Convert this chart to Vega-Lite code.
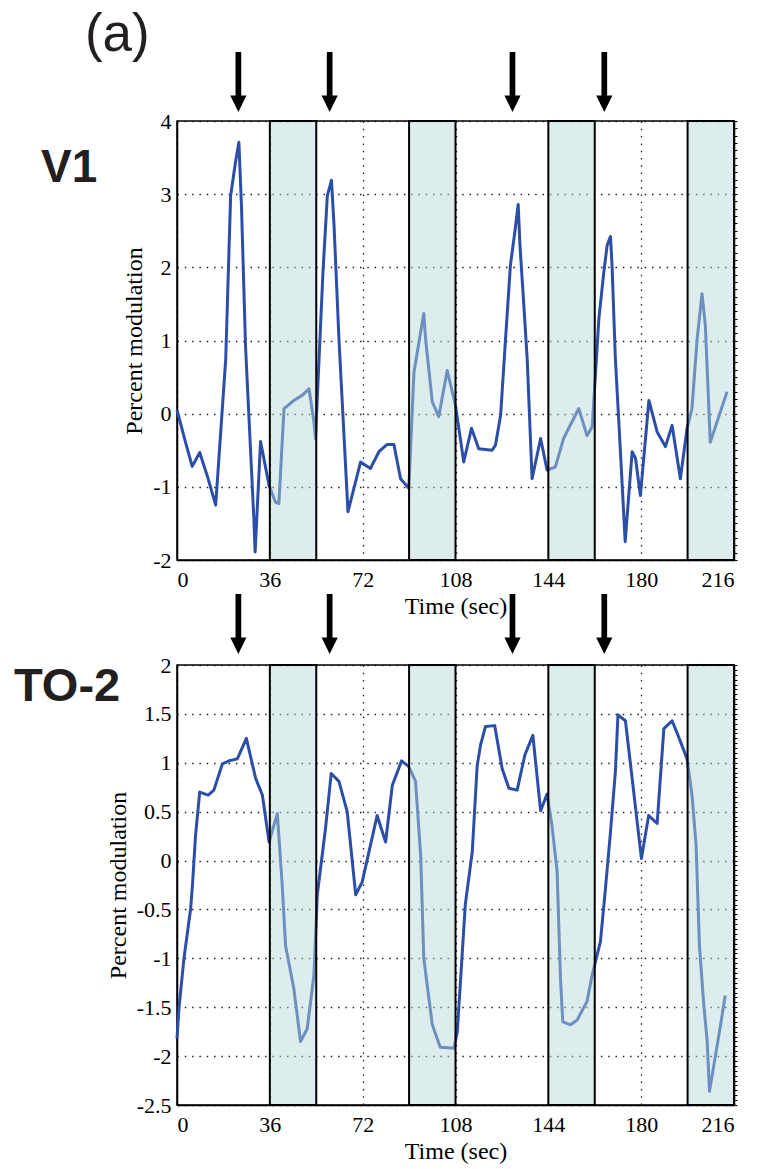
{
  "$schema": "https://vega.github.io/schema/vega-lite/v6.json",
  "padding": {"left": 13, "top": 8, "right": 0, "bottom": 0},
  "background": "white",
  "bounds": "flush",
  "spacing": 105,
  "config": {
    "view": {"stroke": "black", "strokeWidth": 1.5},
    "font": "Liberation Serif",
    "axis": {
      "labelFont": "Liberation Serif",
      "labelFontSize": 22,
      "labelColor": "black",
      "titleFont": "Liberation Serif",
      "titleFontSize": 24,
      "titleFontWeight": "normal",
      "titleColor": "black",
      "domainColor": "black",
      "domainWidth": 1.5,
      "ticks": false,
      "gridColor": "#222222",
      "gridDash": [1.5, 5.8],
      "gridWidth": 1.3,
      "gridOpacity": 1,
      "zindex": 1
    }
  },
  "datasets": {
    "v1": [
      {"t": 0, "v": 0.05}, {"t": 3, "v": -0.35}, {"t": 5.9, "v": -0.72}, {"t": 8.8, "v": -0.53},
      {"t": 12, "v": -0.88}, {"t": 15, "v": -1.25}, {"t": 18.9, "v": 0.75}, {"t": 20.8, "v": 2.98},
      {"t": 22.7, "v": 3.44}, {"t": 24, "v": 3.71}, {"t": 25, "v": 2.84}, {"t": 26, "v": 1.62},
      {"t": 26.6, "v": 0.9}, {"t": 29.8, "v": -1.43}, {"t": 30.3, "v": -1.89}, {"t": 32.4, "v": -0.38},
      {"t": 35.7, "v": -0.98}, {"t": 38.2, "v": -1.21}, {"t": 39.5, "v": -1.23}, {"t": 41.5, "v": 0.07},
      {"t": 45.3, "v": 0.18}, {"t": 48.5, "v": 0.25}, {"t": 51.2, "v": 0.34}, {"t": 53.1, "v": -0.11},
      {"t": 53.7, "v": -0.34}, {"t": 56.6, "v": 1.93}, {"t": 58.3, "v": 2.98}, {"t": 59.9, "v": 3.19},
      {"t": 60.9, "v": 2.57}, {"t": 62.8, "v": 1.02}, {"t": 66.3, "v": -1.34}, {"t": 71.2, "v": -0.66},
      {"t": 75, "v": -0.75}, {"t": 78.3, "v": -0.52}, {"t": 81.5, "v": -0.42}, {"t": 84.1, "v": -0.42},
      {"t": 86.7, "v": -0.89}, {"t": 89.9, "v": -1.02}, {"t": 91.9, "v": 0.57}, {"t": 95.7, "v": 1.37},
      {"t": 96.4, "v": 1.02}, {"t": 99, "v": 0.16}, {"t": 101.5, "v": -0.04}, {"t": 104.8, "v": 0.59},
      {"t": 108, "v": 0.11}, {"t": 111.2, "v": -0.66}, {"t": 114.2, "v": -0.2}, {"t": 117, "v": -0.48},
      {"t": 122.2, "v": -0.5}, {"t": 123.5, "v": -0.43}, {"t": 125.5, "v": -0.02}, {"t": 127.4, "v": 1.02},
      {"t": 129.3, "v": 2.03}, {"t": 131, "v": 2.48}, {"t": 132.3, "v": 2.86}, {"t": 133, "v": 2.3},
      {"t": 134.5, "v": 1.48}, {"t": 135.8, "v": 0.75}, {"t": 137.7, "v": -0.89}, {"t": 141, "v": -0.34},
      {"t": 143.5, "v": -0.77}, {"t": 146.7, "v": -0.73}, {"t": 149.9, "v": -0.34}, {"t": 155.8, "v": 0.07},
      {"t": 159, "v": -0.3}, {"t": 161, "v": -0.18}, {"t": 163.6, "v": 1.3}, {"t": 165.5, "v": 1.93},
      {"t": 166.8, "v": 2.3}, {"t": 168.1, "v": 2.42}, {"t": 168.7, "v": 2.03}, {"t": 170, "v": 0.75},
      {"t": 171.9, "v": -0.48}, {"t": 173.8, "v": -1.75}, {"t": 176.5, "v": -0.52}, {"t": 177.8, "v": -0.61},
      {"t": 179.7, "v": -1.12}, {"t": 183, "v": 0.18}, {"t": 186.2, "v": -0.25}, {"t": 189.4, "v": -0.45},
      {"t": 192, "v": -0.16}, {"t": 195.2, "v": -0.89}, {"t": 197.8, "v": -0.2}, {"t": 199.7, "v": 0.07},
      {"t": 201.7, "v": 1.02}, {"t": 203.6, "v": 1.64}, {"t": 204.9, "v": 1.2}, {"t": 206.8, "v": -0.39},
      {"t": 213.3, "v": 0.3}
    ],
    "to2": [
      {"t": 0, "v": -1.82}, {"t": 0.8, "v": -1.5}, {"t": 2.7, "v": -1.0}, {"t": 5.3, "v": -0.49},
      {"t": 6, "v": -0.25}, {"t": 7.2, "v": 0.26}, {"t": 8.8, "v": 0.7}, {"t": 12.1, "v": 0.67},
      {"t": 14.3, "v": 0.72}, {"t": 17.6, "v": 0.99}, {"t": 20.2, "v": 1.02}, {"t": 23.4, "v": 1.04},
      {"t": 26.9, "v": 1.25}, {"t": 30.5, "v": 0.84}, {"t": 33.1, "v": 0.67}, {"t": 35.7, "v": 0.19},
      {"t": 38.9, "v": 0.48}, {"t": 40.8, "v": -0.25}, {"t": 42.1, "v": -0.87}, {"t": 45.3, "v": -1.31},
      {"t": 47.9, "v": -1.85}, {"t": 50.5, "v": -1.72}, {"t": 53.1, "v": -1.17}, {"t": 54.4, "v": -0.35},
      {"t": 57.6, "v": 0.33}, {"t": 59.8, "v": 0.89}, {"t": 62.8, "v": 0.81}, {"t": 66, "v": 0.5},
      {"t": 69.3, "v": -0.35}, {"t": 71.8, "v": -0.22}, {"t": 77.6, "v": 0.46}, {"t": 80.9, "v": 0.19},
      {"t": 83.5, "v": 0.77}, {"t": 87.1, "v": 1.02}, {"t": 89.9, "v": 0.96}, {"t": 92.5, "v": 0.81},
      {"t": 94.5, "v": 0.05}, {"t": 95.7, "v": -1.0}, {"t": 99, "v": -1.68}, {"t": 102.1, "v": -1.91},
      {"t": 107.4, "v": -1.92}, {"t": 108.7, "v": -1.75}, {"t": 111.8, "v": -0.45}, {"t": 114.5, "v": 0.09},
      {"t": 116.4, "v": 0.97}, {"t": 117.7, "v": 1.18}, {"t": 119.6, "v": 1.37}, {"t": 123.2, "v": 1.38},
      {"t": 126.1, "v": 0.94}, {"t": 128.7, "v": 0.74}, {"t": 131.9, "v": 0.72}, {"t": 134.9, "v": 1.08},
      {"t": 138, "v": 1.28}, {"t": 141, "v": 0.51}, {"t": 143.5, "v": 0.68}, {"t": 145.4, "v": 0.36},
      {"t": 147.4, "v": -0.11}, {"t": 148.7, "v": -1.2}, {"t": 149.6, "v": -1.65}, {"t": 152.6, "v": -1.68},
      {"t": 155.2, "v": -1.63}, {"t": 159, "v": -1.44}, {"t": 161, "v": -1.17}, {"t": 164.2, "v": -0.83},
      {"t": 166.1, "v": -0.3}, {"t": 168, "v": 0.26}, {"t": 170, "v": 0.91}, {"t": 171, "v": 1.49},
      {"t": 173.9, "v": 1.43}, {"t": 176.5, "v": 0.84}, {"t": 180.1, "v": 0.02}, {"t": 182.9, "v": 0.46},
      {"t": 186.2, "v": 0.38}, {"t": 188.8, "v": 1.35}, {"t": 192, "v": 1.43}, {"t": 194.6, "v": 1.26},
      {"t": 197.8, "v": 1.04}, {"t": 199.7, "v": 0.67}, {"t": 201.3, "v": 0.16}, {"t": 202.6, "v": -0.87},
      {"t": 204.3, "v": -1.48}, {"t": 205.6, "v": -1.85}, {"t": 206.5, "v": -2.36}, {"t": 208.2, "v": -2.09},
      {"t": 210.8, "v": -1.68}, {"t": 212.6, "v": -1.38}
    ],
    "blocks": [
      {"start": 36, "end": 54}, {"start": 90, "end": 108}, {"start": 144, "end": 162}, {"start": 198, "end": 216}
    ],
    "stim": [
      {"t": 23.8}, {"t": 59.2}, {"t": 130.1}, {"t": 165.7}
    ]
  },
  "vconcat": [
    {
      "width": 557,
      "height": 439,
      "resolve": {"axis": {"y": "independent"}},
      "layer": [
        {
          "data": {"name": "v1"},
          "mark": {"type": "line", "color": "#2b4fa8", "strokeWidth": 3, "strokeJoin": "round"},
          "encoding": {
            "x": {"field": "t", "type": "quantitative", "scale": {"domain": [0, 216], "nice": false},
                  "axis": {"values": [0, 36, 72, 108, 144, 180, 216], "title": "Time (sec)", "labelPadding": 9, "titlePadding": 4}},
            "y": {"field": "v", "type": "quantitative", "scale": {"domain": [-2, 4], "nice": false, "zero": false},
                  "axis": {"values": [-2, -1, 0, 1, 2, 3, 4], "title": "Percent modulation", "labelPadding": 6, "titlePadding": 6, "labelExpr": "'' + datum.value"}}
          }
        },
        {
          "data": {"name": "blocks"},
          "mark": {"type": "rect", "fill": "#b7d8d8", "fillOpacity": 0.48, "stroke": "black", "strokeWidth": 2},
          "encoding": {
            "x": {"field": "start", "type": "quantitative", "scale": {"domain": [0, 216], "nice": false},
                  "axis": {"values": [0, 36, 72, 108, 144, 180, 216], "title": "Time (sec)", "labelPadding": 9, "titlePadding": 4}},
            "x2": {"field": "end"}
          }
        },
        {
          "data": {"name": "stim"},
          "mark": {"type": "point", "shape": "M -0.095 -1 L 0.095 -1 L 0.095 0.45 L 0.27 0.45 L 0 1 L -0.27 0.45 L -0.095 0.45 Z", "size": 3600, "filled": true, "color": "black", "opacity": 1, "strokeWidth": 0},
          "encoding": {
            "x": {"field": "t", "type": "quantitative", "scale": {"domain": [0, 216], "nice": false},
                  "axis": {"values": [0, 36, 72, 108, 144, 180, 216], "title": "Time (sec)", "labelPadding": 9, "titlePadding": 4}},
            "y": {"datum": 4.533, "type": "quantitative", "scale": {"domain": [-2, 4], "nice": false, "zero": false},
                  "axis": {"orient": "right", "labels": false, "grid": false, "title": null, "ticks": true, "tickCount": 60, "tickSize": 3, "tickColor": "black", "tickWidth": 1}}
          }
        },
        {
          "data": {"values": [{}]},
          "mark": {"type": "text", "text": "V1", "font": "Liberation Sans", "fontSize": 46, "fontWeight": "bold", "align": "left", "baseline": "alphabetic", "color": "#231f20"},
          "encoding": {
            "x": {"datum": -52.74, "type": "quantitative", "scale": {"domain": [0, 216], "nice": false},
                  "axis": {"values": [0, 36, 72, 108, 144, 180, 216], "title": "Time (sec)", "labelPadding": 9, "titlePadding": 4}},
            "y": {"datum": 3.169, "type": "quantitative", "scale": {"domain": [-2, 4], "nice": false, "zero": false}, "axis": null}
          }
        },
        {
          "data": {"values": [{}]},
          "mark": {"type": "text", "text": "(a)", "font": "Liberation Sans", "fontSize": 53, "fontWeight": "normal", "align": "left", "baseline": "alphabetic", "color": "#231f20"},
          "encoding": {
            "x": {"datum": -35.7, "type": "quantitative", "scale": {"domain": [0, 216], "nice": false},
                  "axis": {"values": [0, 36, 72, 108, 144, 180, 216], "title": "Time (sec)", "labelPadding": 9, "titlePadding": 4}},
            "y": {"datum": 4.957, "type": "quantitative", "scale": {"domain": [-2, 4], "nice": false, "zero": false}, "axis": null}
          }
        }
      ]
    },
    {
      "width": 557,
      "height": 440,
      "resolve": {"axis": {"y": "independent"}},
      "layer": [
        {
          "data": {"name": "to2"},
          "mark": {"type": "line", "color": "#2b4fa8", "strokeWidth": 3, "strokeJoin": "round"},
          "encoding": {
            "x": {"field": "t", "type": "quantitative", "scale": {"domain": [0, 216], "nice": false},
                  "axis": {"values": [0, 36, 72, 108, 144, 180, 216], "title": "Time (sec)", "labelPadding": 9, "titlePadding": 4}},
            "y": {"field": "v", "type": "quantitative", "scale": {"domain": [-2.5, 2], "nice": false, "zero": false},
                  "axis": {"values": [-2.5, -2, -1.5, -1, -0.5, 0, 0.5, 1, 1.5, 2], "title": "Percent modulation", "labelPadding": 6, "titlePadding": 6, "labelExpr": "'' + datum.value"}}
          }
        },
        {
          "data": {"name": "blocks"},
          "mark": {"type": "rect", "fill": "#b7d8d8", "fillOpacity": 0.48, "stroke": "black", "strokeWidth": 2},
          "encoding": {
            "x": {"field": "start", "type": "quantitative", "scale": {"domain": [0, 216], "nice": false},
                  "axis": {"values": [0, 36, 72, 108, 144, 180, 216], "title": "Time (sec)", "labelPadding": 9, "titlePadding": 4}},
            "x2": {"field": "end"}
          }
        },
        {
          "data": {"name": "stim"},
          "mark": {"type": "point", "shape": "M -0.095 -1 L 0.095 -1 L 0.095 0.45 L 0.27 0.45 L 0 1 L -0.27 0.45 L -0.095 0.45 Z", "size": 3600, "filled": true, "color": "black", "opacity": 1, "strokeWidth": 0},
          "encoding": {
            "x": {"field": "t", "type": "quantitative", "scale": {"domain": [0, 216], "nice": false},
                  "axis": {"values": [0, 36, 72, 108, 144, 180, 216], "title": "Time (sec)", "labelPadding": 9, "titlePadding": 4}},
            "y": {"datum": 2.419, "type": "quantitative", "scale": {"domain": [-2.5, 2], "nice": false, "zero": false},
                  "axis": {"orient": "right", "labels": false, "grid": false, "title": null, "ticks": true, "tickCount": 90, "tickSize": 3, "tickColor": "black", "tickWidth": 1}}
          }
        },
        {
          "data": {"values": [{}]},
          "mark": {"type": "text", "text": "TO-2", "font": "Liberation Sans", "fontSize": 47, "fontWeight": "bold", "align": "left", "baseline": "alphabetic", "color": "#231f20"},
          "encoding": {
            "x": {"datum": -63.21, "type": "quantitative", "scale": {"domain": [0, 216], "nice": false},
                  "axis": {"values": [0, 36, 72, 108, 144, 180, 216], "title": "Time (sec)", "labelPadding": 9, "titlePadding": 4}},
            "y": {"datum": 1.636, "type": "quantitative", "scale": {"domain": [-2.5, 2], "nice": false, "zero": false}, "axis": null}
          }
        }
      ]
    }
  ]
}
